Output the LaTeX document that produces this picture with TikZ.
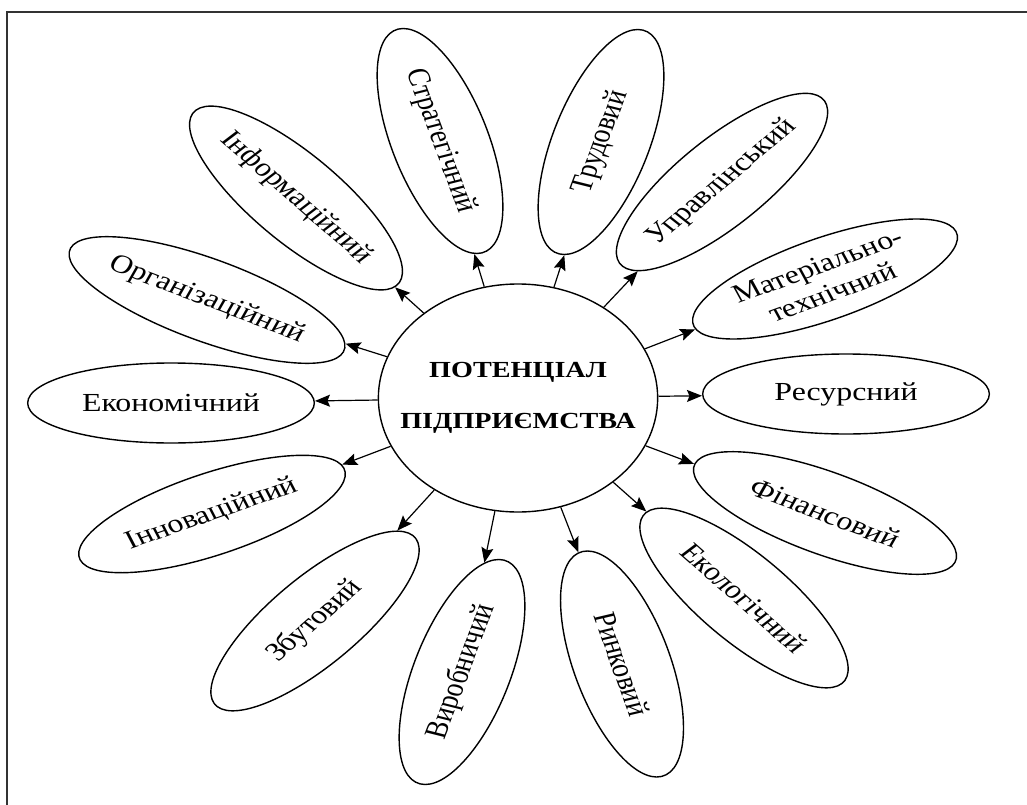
\documentclass[tikz,border=0pt]{standalone}
\usepackage{fontspec}
\setmainfont{Liberation Serif}
\usetikzlibrary{shapes.geometric,arrows.meta}
\begin{document}
\begin{tikzpicture}[x=1pt,y=-1pt,
  arr/.style={line width=1.2pt, -{Stealth[length=15pt,width=12pt,inset=2.5pt]}}]
\useasboundingbox (0,0) rectangle (1027,805);
\draw[line width=2pt, black!80] (7,805) -- (7,12) -- (1027,12);
\begin{scope}[xscale=1.225, x=0.81633pt, y=-1pt, transform shape,
  petal/.style={ellipse, draw, line width=1.4pt, minimum width=234pt, minimum height=80pt, inner sep=0pt, align=center, font=\fontsize{26}{29}\selectfont},
  hub/.style={circle, draw, line width=1.4pt, minimum size=228pt, inner sep=0pt, align=center, font=\bfseries\fontsize{23}{51}\selectfont}]
\node[hub] (c) at (518,398) {ПОТЕНЦІАЛ\\ПІДПРИЄМСТВА};
\node[petal, rotate=-73] (p1) at (440,141) {Стратегічний};
\node[petal, rotate=73] (p2) at (601,142) {Трудовий};
\node[petal, rotate=46] (p3) at (722,182) {Управлінський};
\node[petal, rotate=24] (p4) at (825,279) {Матеріально-\\технічний};
\node[petal] (p5) at (846,394) {Ресурсний};
\node[petal, rotate=-25] (p6) at (825,513) {Фінансовий};
\node[petal, rotate=-47] (p7) at (744,598) {Екологічний};
\node[petal, rotate=-74] (p8) at (622,664) {Ринковий};
\node[petal, rotate=73] (p9) at (462,672) {Виробничий};
\node[petal, rotate=47] (p10) at (315,621) {Збутовий};
\node[petal, rotate=23] (p11) at (212,514) {Інноваційний};
\node[petal] (p12) at (171,403) {Економічний};
\node[petal, rotate=-25] (p13) at (207,300) {Організаційний};
\node[petal, rotate=-47] (p14) at (296,198) {Інформаційний};
\end{scope}
\foreach \i in {1,...,14} {\draw[arr] (c) -- (p\i);}
\end{tikzpicture}
\end{document}
